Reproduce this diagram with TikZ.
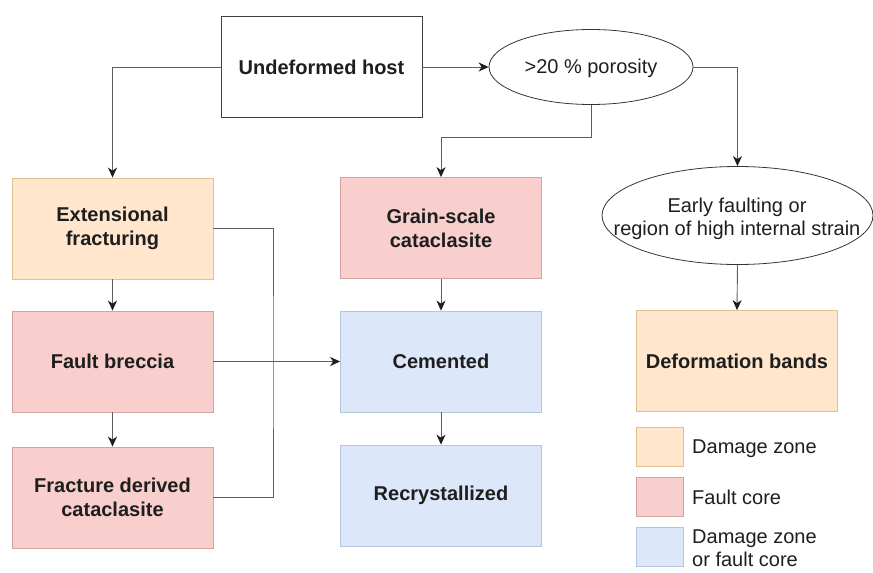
\documentclass[tikz,border=0pt]{standalone}
\usepackage{fontspec}
\setmainfont{Liberation Sans}
\usetikzlibrary{arrows.meta,shapes.geometric}

\definecolor{dzfill}{HTML}{FFE6CC}
\definecolor{dzline}{HTML}{DFC192}
\definecolor{fcfill}{HTML}{F8CFCD}
\definecolor{fcline}{HTML}{D3A3A2}
\definecolor{bothfill}{HTML}{DCE8FA}
\definecolor{bothline}{HTML}{B5C6DC}
\definecolor{wire}{HTML}{5E5E5E}
\definecolor{ink}{HTML}{1E1E1E}

\begin{document}
\begin{tikzpicture}[x=1pt,y=-1pt,
  every node/.style={text=ink},
  box/.style={draw, rectangle, minimum width=201pt, minimum height=101pt,
    inner sep=0pt, align=center, line width=0.8pt,
    font=\fontsize{20}{24}\selectfont\bfseries},
  plainbox/.style={box, draw=ink!85},
  dzbox/.style={box, fill=dzfill, draw=dzline},
  fcbox/.style={box, fill=fcfill, draw=fcline},
  bothbox/.style={box, fill=bothfill, draw=bothline},
  oval/.style={draw=ink!90, ellipse, inner sep=0pt, line width=0.8pt},
  ovaltext/.style={align=center, inner sep=0pt, font=\fontsize{20}{23}\selectfont},
  swatch/.style={draw, rectangle, minimum width=47pt, minimum height=39pt, inner sep=0pt, line width=0.8pt},
  legtext/.style={anchor=west, align=left, inner sep=0pt, font=\fontsize{20}{23}\selectfont},
  conn/.style={draw=wire, line width=0.9pt},
  arr/.style={conn, -{Stealth[length=10pt,width=9pt,inset=3pt,color=ink]}},
]
\useasboundingbox (0,0) rectangle (873,573);

% main boxes
\node[plainbox] (host)  at (321.5,67)  {Undeformed host};
\node[dzbox]    (ext)   at (112.5,228.5) {Extensional\\fracturing};
\node[fcbox]    (fb)    at (112.5,361.5) {Fault breccia};
\node[fcbox]    (frac)  at (112.5,497.5) {Fracture derived\\cataclasite};
\node[bothbox]  (cem)   at (441,361.5) {Cemented};
\node[fcbox]    (grain) at (441,228)   {Grain-scale\\cataclasite};
\node[bothbox]  (rec)   at (441,495.5) {Recrystallized};
\node[dzbox]    (def)   at (737,361)   {Deformation bands};

% decision ellipses
\node[oval, minimum width=204pt, minimum height=75pt] (por) at (591,67) {};
\node[ovaltext] (portext) at (591,68.5) {>20 \% porosity};
\node[oval, minimum width=271pt, minimum height=98pt] (early) at (737.5,215.5) {};
\node[ovaltext] (earlytext) at (737,218.5) {Early faulting or\\region of high internal strain};

% connectors
\draw[arr] (host.west) -| (ext.north);
\draw[arr] (host.east) -- (por.west);
\draw[arr] (por.south) -- ++(0,33) -| (grain.north);
\draw[arr] (por.east) -| (early.north);
\draw[arr] (early.south) -- (def.north);
\draw[arr] (ext.south) -- (fb.north);
\draw[arr] (fb.south) -- (frac.north);
\draw[arr] (grain.south) -- (cem.north);
\draw[arr] (cem.south) -- (rec.north);
\coordinate (join) at (273,361.5);
\draw[conn] (ext.east) -| (join) |- (frac.east);
\draw[arr] (fb.east) -- (cem.west);

% legend
\node[swatch, fill=dzfill, draw=dzline]     (sw1) at (659.5,446.5) {};
\node[swatch, fill=fcfill, draw=fcline]     (sw2) at (659.5,496.5) {};
\node[swatch, fill=bothfill, draw=bothline] (sw3) at (659.5,547)   {};
\node[legtext] (lg1) at (692,449) {Damage zone};
\node[legtext] (lg2) at (692,497) {Fault core};
\node[legtext] (lg3) at (692,548) {Damage zone\\or fault core};
\end{tikzpicture}
\end{document}
